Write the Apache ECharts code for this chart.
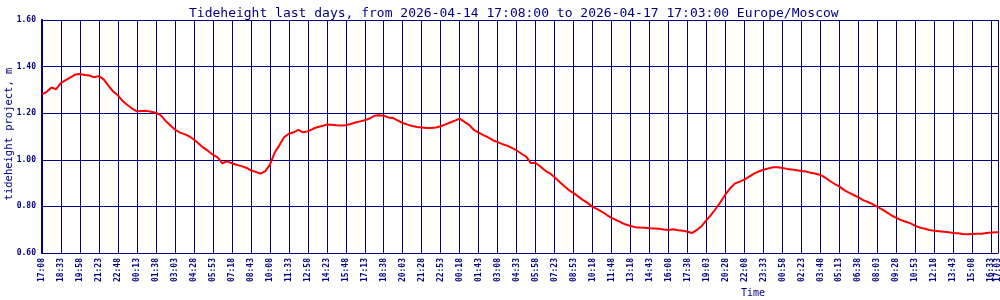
<!DOCTYPE html>
<html>
<head>
<meta charset="utf-8">
<script src="https://cdn.jsdelivr.net/npm/echarts@6/dist/echarts.min.js"></script>
<style>
html,body{margin:0;padding:0;background:#fff;}
#chart{width:1000px;height:300px;}
</style>
</head>
<body>
<div id="chart"></div>
<script>
// Tick labels, one every 17 samples (5-minute samples); last label at the final sample
const tickLabels = ["17:08","18:33","19:58","21:23","22:48","00:13","01:38","03:03","04:28","05:53",
  "07:18","08:43","10:08","11:33","12:58","14:23","15:48","17:13","18:38","20:03",
  "21:28","22:53","00:18","01:43","03:08","04:33","05:58","07:23","08:53","10:18",
  "11:48","13:18","14:43","16:08","17:38","19:03","20:28","22:08","23:33","00:58",
  "02:23","03:48","05:13","06:38","08:03","09:28","10:53","12:18","13:43","15:08",
  "16:33"];
const lastLabel = "17:03";
const samplesPerTick = 17;
const totalSamples = 856;
// Tide height (m), read every quarter tick (4.25 samples)
const samplesPerPoint = 4.25;
const tideHeight = [
 1.281,1.292,1.310,1.303,1.330,1.342,1.354,1.366,1.368,1.364,
 1.362,1.354,1.359,1.345,1.318,1.293,1.277,1.252,1.235,1.220,
 1.208,1.209,1.210,1.206,1.202,1.192,1.168,1.148,1.130,1.118,
 1.110,1.101,1.087,1.070,1.052,1.038,1.022,1.010,0.985,0.993,
 0.985,0.979,0.973,0.966,0.955,0.948,0.941,0.950,0.978,1.030,
 1.062,1.097,1.112,1.118,1.128,1.118,1.122,1.132,1.140,1.145,
 1.151,1.150,1.148,1.147,1.148,1.154,1.160,1.165,1.170,1.177,
 1.189,1.191,1.189,1.182,1.179,1.168,1.158,1.151,1.145,1.141,
 1.139,1.136,1.136,1.139,1.144,1.152,1.160,1.168,1.177,1.163,
 1.150,1.128,1.117,1.106,1.096,1.084,1.076,1.067,1.061,1.051,
 1.040,1.026,1.014,0.986,0.986,0.971,0.954,0.942,0.925,0.906,
 0.888,0.870,0.857,0.842,0.827,0.814,0.798,0.788,0.777,0.763,
 0.751,0.741,0.731,0.722,0.716,0.711,0.709,0.708,0.706,0.705,
 0.704,0.701,0.699,0.702,0.698,0.696,0.691,0.686,0.699,0.716,
 0.741,0.765,0.791,0.820,0.852,0.878,0.899,0.906,0.915,0.928,
 0.941,0.950,0.957,0.963,0.968,0.968,0.965,0.961,0.958,0.955,
 0.952,0.950,0.944,0.940,0.935,0.924,0.909,0.896,0.886,0.870,
 0.859,0.849,0.839,0.827,0.819,0.810,0.798,0.787,0.774,0.761,
 0.751,0.741,0.734,0.727,0.716,0.709,0.704,0.699,0.695,0.693,
 0.691,0.689,0.686,0.685,0.682,0.680,0.682,0.683,0.683,0.686,
 0.688,0.689,0.689
];
const yTicks = {min:0.6, max:1.6, step:0.2};

const navy = '#000080';
const mono = 'DejaVu Sans Mono';
const data = tideHeight.map((v,i)=>[i*samplesPerPoint, v]);
const labelStyle = {rotate:90, margin:5, fontFamily:mono, fontSize:8, fontWeight:'bold', color:navy};

const chart = echarts.init(document.getElementById('chart'), null, {renderer:'canvas'});
chart.setOption({
  animation:false,
  backgroundColor:'#ffffff',
  title:{
    text:'Tideheight last days, from 2026-04-14 17:08:00 to 2026-04-17 17:03:00 Europe/Moscow',
    left:184, top:2,
    textStyle:{fontFamily:mono, fontSize:13, fontWeight:'normal', color:navy}
  },
  grid:{left:42, right:2, top:20, bottom:47, containLabel:false, outerBoundsMode:'none'},
  xAxis:[{
    type:'value', min:0, max:totalSamples, interval:samplesPerTick,
    axisLine:{show:true, lineStyle:{color:navy, width:1}},
    axisTick:{show:false},
    splitLine:{show:true, lineStyle:{color:navy, width:1}},
    axisLabel:Object.assign({}, labelStyle, {
      showMaxLabel:false, showMinLabel:true,
      formatter:function(v){
        if (v >= totalSamples) return '';
        return tickLabels[Math.round(v/samplesPerTick)] || '';
      }
    })
  },{
    type:'value', min:0, max:totalSamples, interval:totalSamples, position:'bottom',
    axisLine:{show:false}, axisTick:{show:false}, splitLine:{show:false},
    axisLabel:Object.assign({}, labelStyle, {
      showMaxLabel:true, showMinLabel:false,
      formatter:function(v){ return v >= totalSamples ? lastLabel : ''; }
    })
  }],
  yAxis:[{
    type:'value', min:yTicks.min, max:yTicks.max, interval:yTicks.step,
    axisLine:{show:true, lineStyle:{color:navy, width:2}},
    axisTick:{show:false},
    splitLine:{show:true, lineStyle:{color:navy, width:1}},
    axisLabel:{margin:6, fontFamily:mono, fontSize:8, fontWeight:'bold', color:navy,
      formatter:function(v){return v.toFixed(2);}}
  },{
    type:'value', min:yTicks.min, max:yTicks.max, interval:yTicks.step, position:'right',
    axisLine:{show:true, lineStyle:{color:navy, width:2}},
    axisTick:{show:false}, axisLabel:{show:false}, splitLine:{show:false}
  }],
  graphic:[{
    type:'text', left:741, top:288,
    style:{text:'Time', font:'10px "DejaVu Sans Mono"', fill:navy}
  },{
    type:'text', x:9, y:134, rotation:Math.PI/2,
    style:{text:'tideheight project, m', font:'10.5px "DejaVu Sans Mono"', fill:navy,
      align:'center', verticalAlign:'middle'}
  }],
  series:[{
    type:'line', data:data, showSymbol:false, symbol:'none', xAxisIndex:0, yAxisIndex:0,
    lineStyle:{color:'#ff0000', width:2}, clip:true
  }]
});
</script>
</body>
</html>
